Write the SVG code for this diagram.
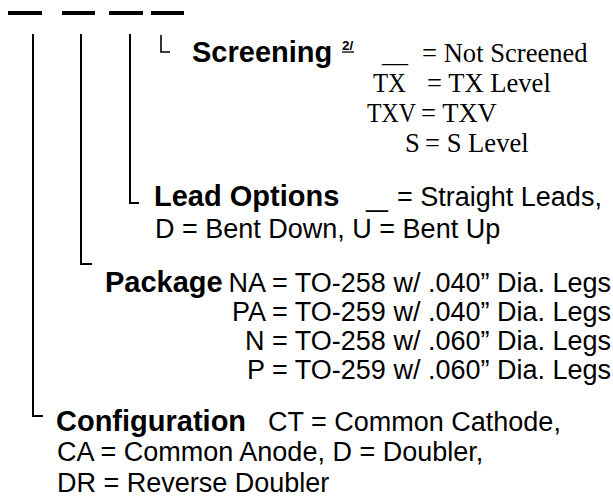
<svg xmlns="http://www.w3.org/2000/svg" width="613" height="498" viewBox="0 0 613 498">
<style>
.b{font-family:"Liberation Sans",Arial,sans-serif;font-weight:bold;font-size:29px;fill:#000}
.r{font-family:"Liberation Sans",Arial,sans-serif;font-size:27px;fill:#000}
.t{font-family:"Liberation Serif","Times New Roman",serif;font-size:26.6px;fill:#000}
.sup{font-family:"Liberation Sans",Arial,sans-serif;font-weight:bold;font-size:13.5px;fill:#000}
.bar{stroke:#000;stroke-width:4;fill:none}
.conn{stroke:#000;stroke-width:2;fill:none}
.hook{stroke:#000;stroke-width:1.6;fill:none}
</style>
<rect width="613" height="498" fill="#fff"/>
<g id="code-bars">
<line class="bar" x1="8" y1="13" x2="42" y2="13"/>
<line class="bar" x1="62" y1="13" x2="95" y2="13"/>
<line class="bar" x1="109" y1="13" x2="143" y2="13"/>
<line class="bar" x1="151" y1="13" x2="184" y2="13"/>
</g>
<g id="connectors">
<path class="conn" d="M130,34 V203 H139"/>
<path class="conn" d="M81,34 V264 H92"/>
<path class="conn" d="M33,34 V416 H43"/>
<path class="hook" d="M161,35 V52 H170"/>
</g>
<g id="screening">
<text class="b" x="192" y="62">Screening</text>
<text class="sup" x="342" y="50">2/</text>
<line x1="342" y1="52" x2="354" y2="52" stroke="#000" stroke-width="1.3"/>
<text class="t" x="382" y="62" textLength="26" lengthAdjust="spacingAndGlyphs">__</text>
<text class="t" x="422" y="62">= Not Screened</text>
<text class="t" x="373" y="92" textLength="33" lengthAdjust="spacingAndGlyphs">TX</text>
<text class="t" x="427" y="92">= TX Level</text>
<text class="t" x="367" y="122" textLength="49" lengthAdjust="spacingAndGlyphs">TXV</text>
<text class="t" x="421" y="122">= TXV</text>
<text class="t" x="405" y="152">S</text>
<text class="t" x="425" y="152">= S Level</text>
</g>
<g id="lead-options">
<text class="b" x="154" y="206">Lead Options</text>
<text class="r" x="366" y="206" textLength="22" lengthAdjust="spacingAndGlyphs">__</text>
<text class="r" x="397" y="206">= Straight Leads,</text>
<text class="r" x="155" y="238">D = Bent Down, U = Bent Up</text>
</g>
<g id="package">
<text class="b" x="105" y="292">Package</text>
<text class="r" x="611" y="292" text-anchor="end">NA = TO-258 w/ .040” Dia. Legs</text>
<text class="r" x="611" y="321" text-anchor="end">PA = TO-259 w/ .040” Dia. Legs</text>
<text class="r" x="611" y="350" text-anchor="end">N = TO-258 w/ .060” Dia. Legs</text>
<text class="r" x="611" y="379" text-anchor="end">P = TO-259 w/ .060” Dia. Legs</text>
</g>
<g id="configuration">
<text class="b" x="56" y="431">Configuration</text>
<text class="r" x="268" y="431">CT = Common Cathode,</text>
<text class="r" x="57" y="461">CA = Common Anode, D = Doubler,</text>
<text class="r" x="57" y="492">DR = Reverse Doubler</text>
</g>
</svg>
